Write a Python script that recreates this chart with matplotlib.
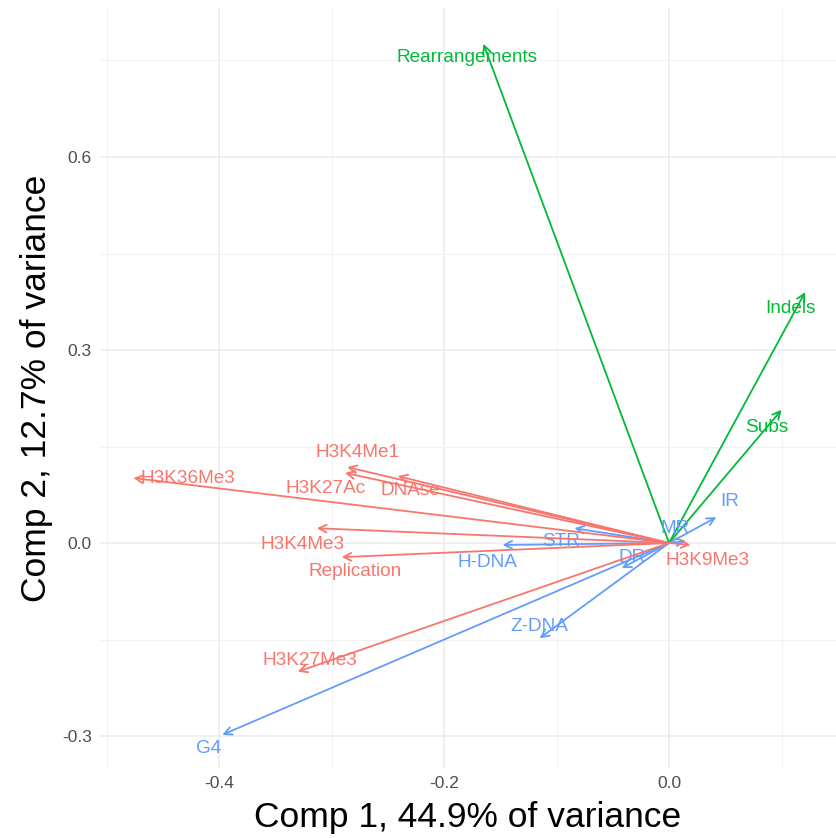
import matplotlib
matplotlib.use('Agg')
import matplotlib.pyplot as plt
from matplotlib.ticker import MultipleLocator

plt.rcParams['font.family'] = ['Liberation Sans', 'DejaVu Sans']

# loadings (arrow tips) and label positions
features = ['Rearrangements', 'Indels', 'Subs',
            'IR', 'MR', 'STR', 'H-DNA', 'DR', 'Z-DNA', 'G4',
            'H3K36Me3', 'H3K4Me1', 'H3K27Ac', 'DNAse', 'H3K4Me3',
            'Replication', 'H3K27Me3', 'H3K9Me3']
groups = ['mut', 'mut', 'mut',
          'struct', 'struct', 'struct', 'struct', 'struct', 'struct', 'struct',
          'chrom', 'chrom', 'chrom', 'chrom', 'chrom',
          'chrom', 'chrom', 'chrom']
pc1 = [-0.165, 0.121, 0.100,
       0.042, 0.015, -0.084, -0.148, -0.042, -0.115, -0.397,
       -0.476, -0.286, -0.288, -0.241, -0.313,
       -0.291, -0.330, 0.019]
pc2 = [0.776, 0.390, 0.207,
       0.040, 0.003, 0.023, -0.003, -0.039, -0.148, -0.298,
       0.101, 0.118, 0.109, 0.104, 0.023,
       -0.022, -0.200, -0.003]
label_x = [-0.180, 0.108, 0.087,
           0.054, 0.005, -0.096, -0.161, -0.033, -0.115, -0.409,
           -0.428, -0.277, -0.305, -0.230, -0.326,
           -0.279, -0.319, 0.034]
label_y = [0.754, 0.365, 0.180,
           0.064, 0.023, 0.002, -0.030, -0.023, -0.129, -0.319,
           0.101, 0.141, 0.085, 0.082, -0.002,
           -0.045, -0.182, -0.027]

colors = {'chrom': '#F8766D', 'mut': '#00BA38', 'struct': '#619CFF'}

fig = plt.figure(figsize=(8.36, 8.38), dpi=100)
ax = fig.add_axes([100 / 836, 70 / 838, 736 / 836, 760 / 838])

for name, g, x, y, lx, ly in zip(features, groups, pc1, pc2, label_x, label_y):
    c = colors[g]
    ax.annotate('', xy=(x, y), xytext=(0, 0),
                arrowprops=dict(arrowstyle='->,head_length=0.55,head_width=0.28',
                                color=c, lw=1.3, shrinkA=0, shrinkB=0))
    ax.text(lx, ly, name, color=c, fontsize=13.7, ha='center', va='center')

ax.set_xlim(-0.5058, 0.1484)
ax.set_ylim(-0.3497, 0.8316)
ax.xaxis.set_major_locator(MultipleLocator(0.2))
ax.xaxis.set_minor_locator(MultipleLocator(0.1))
ax.yaxis.set_major_locator(MultipleLocator(0.3))
ax.yaxis.set_minor_locator(MultipleLocator(0.15))
ax.xaxis.set_major_formatter(plt.FuncFormatter(lambda v, p: '%.1f' % v))
ax.yaxis.set_major_formatter(plt.FuncFormatter(lambda v, p: '%.1f' % v))

ax.grid(which='major', color='#EBEBEB', lw=1.1)
ax.grid(which='minor', color='#F2F2F2', lw=0.8)
ax.set_axisbelow(True)
for s in ax.spines.values():
    s.set_visible(False)
ax.tick_params(which='both', length=0, labelsize=12.5, labelcolor='#4D4D4D', pad=6)

ax.set_xlabel('Comp 1, 44.9% of variance', fontsize=25.5, labelpad=7)
ax.set_ylabel('Comp 2, 12.7% of variance', fontsize=25.5, labelpad=6)

fig.savefig('out.png', dpi=100)
plt.close(fig)
